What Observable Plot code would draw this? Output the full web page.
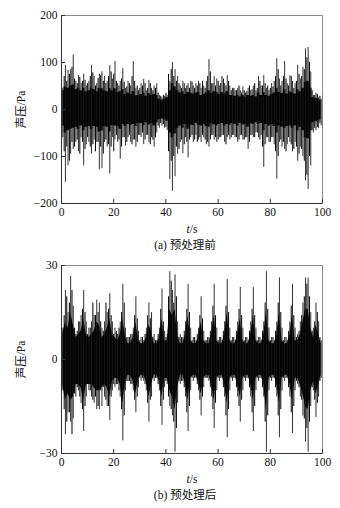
<!DOCTYPE html>
<html><head><meta charset="utf-8">
<script src="https://cdn.jsdelivr.net/npm/d3@7"></script>
<script src="https://cdn.jsdelivr.net/npm/@observablehq/plot@0.6"></script>
<style>
body{margin:0;background:#fff;width:340px;font-family:"Liberation Serif","Noto Sans CJK SC",serif;}
.cap{width:310px;margin-left:30px;height:18px;line-height:18px;text-align:center;font-size:11.5px;color:#111;}
svg{display:block;}
</style></head><body>
<div id="a"></div><div class="cap">(a) 预处理前</div>
<div id="b"></div><div class="cap">(b) 预处理后</div>
<script>
// time bins: main peaks at bin centres, secondary peaks at bin starts
const secs = Array.from({length: 100}, (_, i) => i + 0.5);
const secs2 = Array.from({length: 100}, (_, i) => i + 0.02);
const xTicks = [0, 20, 40, 60, 80, 100];

// (a) before preprocessing: per-second largest peaks
const aHi = [45,94,83,85,116,60,72,55,75,50, 60,94,70,55,75,80,70,60,93,65,
  102,55,60,87,45,60,50,102,45,40, 55,64,40,62,45,50,55,30,25,28,
  30,60,100,85,70,50,60,45,55,60, 50,55,60,45,50,60,106,55,70,65,
  50,70,55,72,50,45,40,45,40,48, 35,45,40,50,40,70,50,72,45,40,
  55,60,108,65,60,102,55,72,60,55, 94,65,90,129,132,80,30,35,25,22];
const aLo = [-60,-155,-120,-95,-85,-70,-90,-60,-120,-75, -70,-95,-65,-70,-128,-126,-70,-80,-137,-60,
  -65,-70,-106,-60,-78,-60,-70,-65,-80,-55, -60,-75,-55,-70,-60,-80,-50,-40,-35,-40,
  -45,-149,-174,-143,-95,-70,-94,-60,-103,-60, -70,-55,-65,-70,-60,-75,-80,-55,-65,-70,
  -60,-55,-70,-60,-65,-55,-60,-70,-55,-65, -60,-85,-55,-60,-50,-60,-55,-123,-60,-70,
  -60,-75,-148,-70,-80,-85,-75,-70,-90,-70, -110,-80,-100,-152,-170,-120,-50,-45,-40,-35];
// (a) per-second secondary peaks
const a2Hi = [50,70,60,75,90,65,55,68,60,62, 55,70,78,50,66,72,60,55,70,80,
  75,60,50,65,58,48,55,70,60,50, 45,50,55,45,55,40,45,35,28,30,
  35,75,85,70,60,55,45,55,50,45, 58,45,50,55,60,45,70,80,55,50,
  60,55,65,50,60,40,45,40,50,35, 40,38,50,42,55,45,60,50,55,50,
  45,48,70,85,50,70,65,50,70,45, 60,75,70,85,110,100,40,30,32,28];
const a2Lo = [-50,-90,-80,-110,-70,-80,-65,-95,-70,-85, -60,-80,-75,-90,-70,-80,-95,-65,-75,-80,
  -90,-55,-65,-80,-60,-70,-55,-75,-65,-70, -55,-50,-65,-55,-75,-65,-60,-35,-30,-32,
  -38,-90,-110,-100,-80,-85,-65,-75,-70,-65, -55,-65,-70,-60,-55,-65,-70,-65,-55,-60,
  -65,-60,-55,-75,-55,-60,-55,-60,-65,-55, -65,-60,-70,-55,-60,-50,-65,-80,-75,-60,
  -70,-60,-90,-100,-65,-70,-90,-60,-75,-85, -80,-95,-85,-110,-140,-100,-45,-40,-38,-30];
// (a) dense core band, per second
const aCoreHi = [40,48,45,50,52,42,45,40,45,38, 40,45,42,38,45,44,40,38,45,40,
  44,36,38,42,32,35,32,38,30,30, 32,35,28,34,30,32,30,22,20,22,
  25,40,55,48,40,35,38,32,36,35, 33,35,36,30,32,35,40,34,38,36,
  32,36,33,38,30,30,28,30,27,30, 26,30,28,30,27,35,30,36,30,28,
  32,35,45,36,34,42,33,38,35,33, 42,38,45,58,60,45,25,24,22,20];
const aCoreLo = [-35,-50,-45,-42,-40,-38,-42,-35,-45,-38, -36,-42,-36,-38,-48,-46,-36,-38,-48,-34,
  -35,-36,-42,-32,-36,-32,-34,-32,-36,-30, -30,-34,-28,-33,-30,-35,-28,-22,-20,-22,
  -25,-50,-60,-52,-40,-35,-40,-32,-42,-33, -34,-30,-33,-35,-32,-36,-38,-30,-33,-35,
  -32,-30,-35,-32,-33,-30,-32,-35,-30,-33, -32,-38,-30,-32,-28,-32,-30,-45,-32,-35,
  -32,-36,-50,-35,-38,-40,-36,-35,-40,-35, -45,-38,-45,-60,-62,-45,-28,-26,-24,-22];
const aYTicks = [200, 100, 0, -100, -200];

// (b) after preprocessing: per-second largest peaks
const bHi = [10,22,15,26.5,17,8,12,14,22,12, 10,12,14,19,18,10,12,15,21,12,
  10,8,12,24,10,7,8,10,20,9, 7,6,10,18,15,8,6,10,22.5,9,
  8,28,22,27,12,8,7,12,24,10, 7,6,10,20,9,6,7,12,24,10,
  7,6,12,25.5,10,7,6,12,23,10, 7,6,12,23,10,7,6,12,28,10,
  7,6,12,26,10,7,6,12,24,10, 8,12,18,26,26,15,10,18,12,6];
const bLo = [-10,-24,-17,-20,-19,-12,-10,-14,-23,-12, -10,-12,-14,-16,-16,-15,-12,-15,-19.5,-10,
  -9,-8,-12,-26,-10,-7,-8,-10,-17,-9, -7,-7,-10,-20,-12,-7,-6,-10,-21,-9,
  -8,-15,-18,-29.6,-14,-8,-7,-12,-23,-10, -7,-6,-10,-18,-9,-6,-7,-12,-22,-10,
  -7,-6,-12,-25,-10,-7,-6,-12,-20,-10, -7,-6,-12,-23,-10,-7,-6,-12,-29.6,-10,
  -7,-6,-12,-25,-10,-7,-6,-12,-23.6,-10, -8,-12,-18,-26.4,-29.6,-15,-10,-18.5,-12,-6];
// (b) per-second secondary peaks
const b2Hi = [9,14,20,18,22,10,9,12,16,15, 8,10,18,14,15,12,9,18,16,14,
  8,9,10,15,18,7,7,8,14,13, 6,7,8,14,13,7,6,8,16,12,
  7,20,25,18,20,7,7,9,16,15, 6,7,8,14,13,6,7,9,17,14,
  6,7,9,17,15,6,7,9,16,14, 6,7,9,16,14,6,7,9,18,16,
  6,7,9,18,15,6,7,9,17,14, 7,9,14,20,24,20,9,12,15,7];
const b2Lo = [-9,-16,-20,-17,-24,-11,-9,-12,-16,-15, -8,-10,-13,-12,-15,-10,-9,-13,-15,-12,
  -8,-8,-10,-16,-18,-7,-7,-8,-13,-12, -6,-6,-8,-14,-13,-6,-6,-8,-15,-13,
  -7,-12,-16,-20,-22,-7,-7,-9,-17,-15, -6,-6,-8,-13,-12,-6,-6,-9,-16,-14,
  -6,-6,-9,-18,-16,-6,-6,-9,-15,-13, -6,-6,-9,-17,-15,-6,-6,-9,-20,-18,
  -6,-6,-9,-18,-16,-6,-6,-9,-17,-15, -7,-9,-13,-19,-22,-20,-9,-13,-14,-7];
// (b) dense core band, per second
const bCoreHi = [8,12,10,15,11,7,8,9,13,8, 7,8,9,12,11,7,8,10,13,8,
  7,6,8,13,7,5,5,7,12,6, 5,5,7,11,9,5,5,7,13,6,
  6,16,14,16,8,5,5,8,14,6, 5,5,7,12,6,5,5,8,14,6,
  5,5,8,15,6,5,5,8,13,6, 5,5,8,14,6,5,5,8,15,6,
  5,5,8,15,6,5,5,8,14,6, 6,8,12,16,16,10,7,11,8,5];
const bCoreLo = [-8,-13,-11,-13,-12,-8,-8,-9,-13,-8, -8,-8,-9,-10,-10,-9,-8,-9,-12,-7,
  -6,-6,-8,-14,-7,-5,-5,-7,-11,-6, -5,-5,-7,-12,-8,-5,-5,-7,-12,-6,
  -6,-10,-12,-16,-9,-5,-5,-8,-13,-6, -5,-5,-7,-11,-6,-5,-5,-8,-13,-6,
  -5,-5,-8,-14,-6,-5,-5,-8,-12,-6, -5,-5,-8,-13,-6,-5,-5,-8,-16,-6,
  -5,-5,-8,-14,-6,-5,-5,-8,-13,-6, -6,-8,-11,-15,-16,-10,-7,-11,-8,-5];
const bYTicks = [30, 0, -30];

const FONT = '"Liberation Serif","Noto Sans CJK SC",serif';
const ns = "http://www.w3.org/2000/svg";

function panel(el, o) {
  const W = 340, ml = 61, mr = 18;
  const innerW = W - ml - mr, innerH = o.height - o.mt - o.mb;
  const spikes = secs.map((x, i) => ({x, hi: o.hi[i], lo: o.lo[i]}));
  const spikes2 = secs2.map((x, i) => ({x, hi: o.hi2[i], lo: o.lo2[i]}));
  const core = secs.map((x, i) => ({x, hi: o.chi[i], lo: o.clo[i]}));
  const yDom = [o.yTicks[o.yTicks.length - 1], o.yTicks[0]];
  const svg = Plot.plot({
    width: W, height: o.height,
    marginLeft: ml, marginRight: mr, marginTop: o.mt, marginBottom: o.mb,
    style: {fontFamily: FONT, fontSize: "11.5px", color: "#111", background: "#fff", overflow: "visible"},
    x: {domain: [0, 100]},
    y: {domain: yDom},
    marks: [
      Plot.areaY(core, {x: "x", y1: "lo", y2: "hi", fill: "#000", curve: o.curve}),
      Plot.ruleX(spikes2, {x: "x", y1: "lo", y2: "hi", stroke: "#000", strokeWidth: 1}),
      Plot.ruleX(spikes, {x: "x", y1: "lo", y2: "hi", stroke: "#1a1a1a", strokeWidth: 0.9}),
      Plot.frame({stroke: "#8a8a8a"}),
      Plot.ruleX([0], {stroke: "#333"}),
      Plot.ruleY([yDom[0]], {stroke: "#333"}),
      Plot.tickY(o.yTicks, {y: d => d, insetRight: innerW - 4, stroke: "#333"}),
      Plot.tickX(xTicks, {x: d => d, insetTop: innerH - 4, stroke: "#333"}),
      Plot.axisX({ticks: xTicks, tickSize: 0, tickPadding: 4, tickFormat: d => d,
        label: "t/s", labelAnchor: "center", labelOffset: 29, labelArrow: "none"}),
      Plot.axisY({ticks: o.yTicks, tickSize: 0, tickPadding: 4,
        label: "声压/Pa", labelAnchor: "center", labelOffset: 45, labelArrow: "none"})
    ]
  });
  const lab = svg.querySelector('[aria-label="x-axis label"] text');
  if (lab) {
    lab.textContent = "";
    const t1 = document.createElementNS(ns, "tspan");
    t1.setAttribute("font-style", "italic"); t1.textContent = "t";
    const t2 = document.createElementNS(ns, "tspan"); t2.textContent = "/s";
    lab.appendChild(t1); lab.appendChild(t2);
  }
  document.getElementById(el).appendChild(svg);
}

panel("a", {hi: aHi, lo: aLo, hi2: a2Hi, lo2: a2Lo, chi: aCoreHi, clo: aCoreLo, curve: "step",
  yTicks: aYTicks, height: 236, mt: 15, mb: 33});
panel("b", {hi: bHi, lo: bLo, hi2: b2Hi, lo2: b2Lo, chi: bCoreHi, clo: bCoreLo, curve: "linear",
  yTicks: bYTicks, height: 232, mt: 11, mb: 33});
</script>
</body></html>
